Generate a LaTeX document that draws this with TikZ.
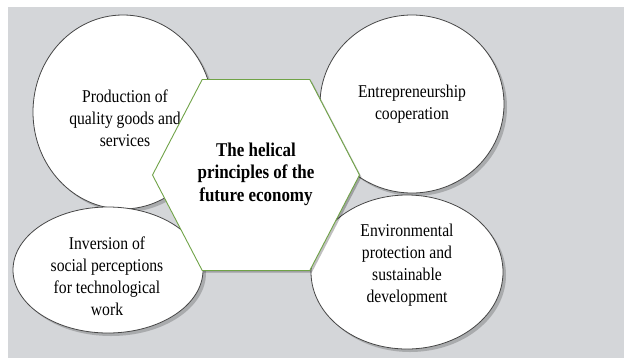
\documentclass[tikz,border=0pt]{standalone}
\usepackage{fontspec}
\setmainfont{Liberation Serif}[FakeStretch=0.87]
\usetikzlibrary{shapes.geometric,shapes.symbols,shadows}
\definecolor{bggray}{RGB}{212,214,217}
\definecolor{hexgreen}{RGB}{112,163,71}
\definecolor{rimgray}{RGB}{70,70,70}

\begin{document}
\begin{tikzpicture}[x=1bp, y=-1bp,
    ovalnode/.style={ellipse, draw=rimgray, fill=white, line width=0.8pt, inner sep=0pt,
      drop shadow={shadow xshift=3bp, shadow yshift=-3bp, fill=black, opacity=0.2}},
    textnode/.style={align=center, inner sep=0pt, font=\fontsize{18bp}{22bp}\selectfont},
    hexnode/.style={signal, signal to=east and west, signal pointer angle=125, draw=hexgreen, fill=white,
      line width=0.9pt, minimum width=207bp, minimum height=191bp, inner sep=0pt,
      drop shadow={shadow xshift=2bp, shadow yshift=-2bp, fill=black, opacity=0.25}},
    titlenode/.style={textnode, font=\fontsize{19.5bp}{22.5bp}\selectfont\bfseries}
   ]
   \useasboundingbox (0,0) rectangle (624,358);
   \fill[bggray] (8,7) rectangle (624,358);

   \node[ovalnode, minimum width=180bp, minimum height=194bp] (goods) at (123,112) {};
   \node[textnode] (goodstext) at (125,118) {Production of\\quality goods and\\services};
   \node[ovalnode, minimum width=184bp, minimum height=178bp] (business) at (412,104) {};
   \node[textnode] (businesstext) at (412,104) {Entrepreneurship\\cooperation};
   \node[ovalnode, minimum width=190bp, minimum height=126bp] (inversion) at (108,270) {};
   \node[textnode] (inversiontext) at (107,276) {Inversion of\\social perceptions\\for technological\\work};
   \node[ovalnode, minimum width=192bp, minimum height=154bp] (environment) at (407,272) {};
   \node[textnode] (environmenttext) at (407,265) {Environmental\\protection and\\sustainable\\development};

   \node[hexnode] (helix) at (256,175) {};
   \node[titlenode] (helixtext) at (256,174) {The helical\\principles of the\\future economy};
\end{tikzpicture}
\end{document}
